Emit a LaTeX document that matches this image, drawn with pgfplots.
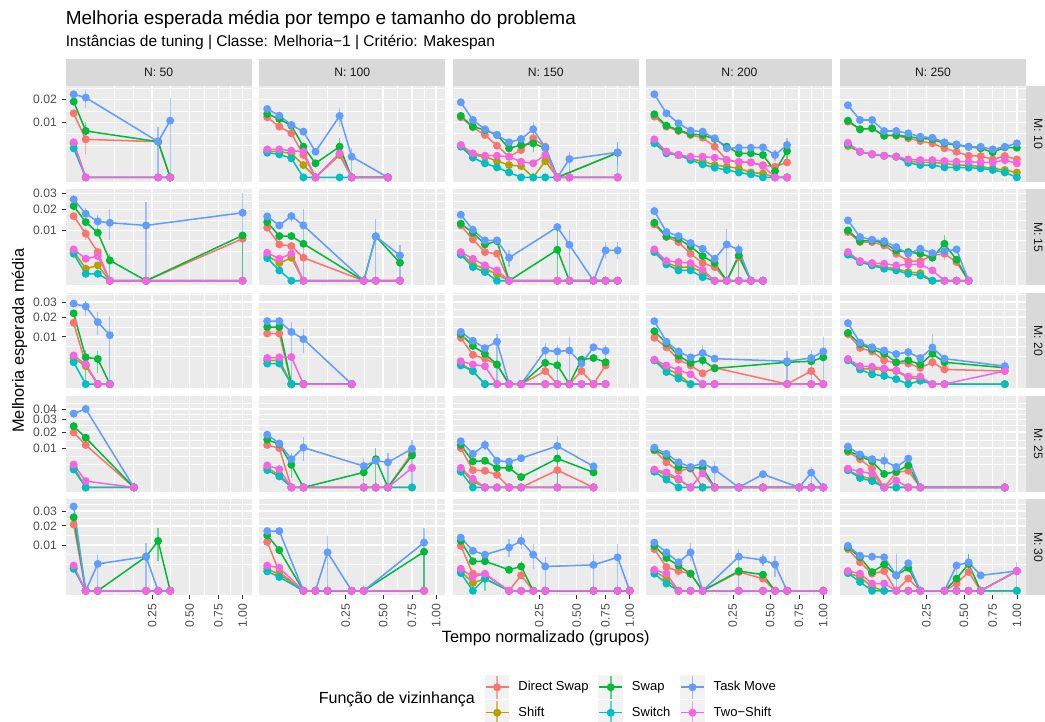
\documentclass[border=0pt]{standalone}
\usepackage{pgfplots}
\pgfplotsset{compat=1.18}
\usepgfplotslibrary{groupplots}
\usetikzlibrary{calc}
\usepackage{fontspec}
\setmainfont{Liberation Sans}
\definecolor{cDS}{HTML}{F8766D}
\definecolor{cSH}{HTML}{B79F00}
\definecolor{cSW}{HTML}{00BA38}
\definecolor{cSC}{HTML}{00BFC4}
\definecolor{cTM}{HTML}{619CFF}
\definecolor{cTS}{HTML}{F564E3}
\definecolor{panelbg}{HTML}{EBEBEB}
\definecolor{stripbg}{HTML}{D9D9D9}
\definecolor{gray10}{HTML}{1A1A1A}
\definecolor{gray20}{HTML}{333333}
\definecolor{gray30}{HTML}{4D4D4D}
\definecolor{lgbg}{HTML}{F2F2F2}
\pgfplotsset{
  ser/.style={line width=1.1pt, mark=*, mark size=2.3pt, mark options={draw=none}},
  ds/.style={ser, color=cDS},
  sh/.style={ser, color=cSH},
  sw/.style={ser, color=cSW},
  sc/.style={ser, color=cSC},
  tm/.style={ser, color=cTM},
  ts/.style={ser, color=cTS},
  eb/.style={no marks, line width=0.9pt, opacity=0.55, forget plot},
  lg/.style={legend image code/.code={
      \fill[lgbg] (0pt,-8.3pt) rectangle (16.6pt,8.3pt);
      \draw[##1, opacity=0.6] (8.3pt,-8.3pt) -- (8.3pt,8.3pt);
      \draw[##1] (0pt,0pt) -- (16.6pt,0pt);
      \fill[##1] (8.3pt,0pt) circle (2.3pt);}},
  r1/.style={ymin=-0.0079, ymax=0.1659, ytick={0.1,0.14142}, minor ytick={0.0586,0.0793,0.1207,0.1621}},
  r2/.style={ymin=-0.00865, ymax=0.1816, ytick={0.1,0.14142,0.17321}, minor ytick={0.0586,0.0793,0.1207,0.1573}},
  r3/.style={ymin=-0.0092, ymax=0.1933, ytick={0.1,0.14142,0.17321}, minor ytick={0.0586,0.0793,0.1207,0.1573,0.189}},
  r4/.style={ymin=-0.0111, ymax=0.2328, ytick={0.1,0.14142,0.17321,0.2}, minor ytick={0.0586,0.0793,0.1207,0.1573,0.1866,0.2134}},
  r5/.style={ymin=-0.0095, ymax=0.199, ytick={0.1,0.14142,0.17321}, minor ytick={0.0586,0.0793,0.1207,0.1573,0.189}},
  B/.style={xticklabels={0.25,0.50,0.75,1.00}},
}
\newcommand{\eb}[4]{\addplot[eb,color=#1] coordinates {(#2,#3) (#2,#4)};}
\begin{document}
\begin{tikzpicture}
\begin{groupplot}[
  group style={group size=5 by 5, horizontal sep=5.49pt, vertical sep=5.49pt,
    xticklabels at=edge bottom, yticklabels at=edge left},
  scale only axis, width=134.4pt, height=69.2pt,
  axis background/.style={fill=panelbg},
  axis line style={draw=none},
  xmin=0.0221, xmax=1.0497,
  xtick={0.5,0.70711,0.86603,1},
  minor xtick={0.29289,0.39645,0.60355,0.78656,0.93301},
  grid=both,
  major grid style={white, line width=1.07pt},
  minor grid style={white, line width=0.53pt},
  major tick length=0pt, minor tick length=0pt,
  tick label style={font=\fontsize{8.8}{10}\selectfont, text=gray30},
  xticklabel style={rotate=90, anchor=east},
  xticklabel shift=2.75pt, yticklabel shift=2.75pt,
  x filter/.expression={sqrt(x)},
  y filter/.expression={sqrt(y)},
]
%%%%%%%%%%%%%%%% ROW 1 (M: 10)
\nextgroupplot[r1, yticklabels={0.01,0.02}]
\eb{cTM}{0.01778}{0.01605}{0.0252}
\eb{cTM}{0.28444}{0}{0.00849}
\eb{cTM}{0.36}{0}{0.02098}
\eb{cDS}{0.01778}{0.00175}{0.00906}
\eb{cSW}{0.01778}{0.00592}{0.01024}
\addplot[ds] coordinates {(0.00444,0.01354) (0.01778,0.00477) (0.28444,0.0042) (0.36,0)};
\addplot[sh] coordinates {(0.00444,0.00382) (0.01778,0) (0.28444,0) (0.36,0)};
\addplot[sw] coordinates {(0.00444,0.01893) (0.01778,0.0071) (0.28444,0.0042) (0.36,0)};
\addplot[sc] coordinates {(0.00444,0.00278) (0.01778,0) (0.28444,0) (0.36,0)};
\addplot[tm] coordinates {(0.00444,0.02277) (0.01778,0.02098) (0.28444,0.0042) (0.36,0.0106)};
\addplot[ts] coordinates {(0.00444,0.00405) (0.01778,0) (0.28444,0) (0.36,0)};

\nextgroupplot[r1]
\eb{cTM}{0.21778}{0.00849}{0.01605}
\eb{cTM}{0.28444}{0}{0.00278}
\eb{cSW}{0.21778}{0.00165}{0.00503}
\addplot[ds] coordinates {(0.00444,0.0119) (0.01778,0.00849) (0.04,0.0064) (0.07111,0.00165) (0.11111,0) (0.21778,0.0019) (0.28444,0) (0.53778,0)};
\addplot[sh] coordinates {(0.00444,0.00229) (0.01778,0.00218) (0.04,0.0019) (0.07111,0.0005) (0.11111,0) (0.21778,0.00165) (0.28444,0) (0.53778,0)};
\addplot[sw] coordinates {(0.00444,0.01326) (0.01778,0.01125) (0.04,0.00882) (0.07111,0.00311) (0.11111,0.00065) (0.21778,0.00311) (0.28444,0) (0.53778,0)};
\addplot[sc] coordinates {(0.00444,0.00201) (0.01778,0.00175) (0.04,0.00119) (0.07111,0) (0.11111,0) (0.21778,0) (0.28444,0) (0.53778,0)};
\addplot[tm] coordinates {(0.00444,0.01543) (0.01778,0.01257) (0.04,0.00906) (0.07111,0.00689) (0.11111,0.00218) (0.21778,0.01244) (0.28444,0.00141) (0.53778,0)};
\addplot[ts] coordinates {(0.00444,0.00259) (0.01778,0.00259) (0.04,0.00235) (0.07111,0.00218) (0.11111,0) (0.21778,0.0019) (0.28444,0) (0.53778,0)};

\nextgroupplot[r1]
\eb{cTM}{0.21778}{0.00574}{0.01}
\eb{cTM}{0.44444}{0}{0.00218}
\eb{cTM}{0.87111}{0.0005}{0.0042}
\eb{cSW}{0.21778}{0.00218}{0.00503}
\eb{cSC}{0.87111}{0}{0.0042}
\addplot[ds] coordinates {(0.00444,0.0119) (0.01778,0.00826) (0.04,0.00592) (0.07111,0.00331) (0.11111,0.00141) (0.16,0.00247) (0.21778,0.00503) (0.28444,0.00311) (0.36,0) (0.87111,0.002)};
\addplot[sh] coordinates {(0.00444,0.00325) (0.01778,0.00165) (0.04,0.00141) (0.07111,0.00088) (0.11111,0.0005) (0.16,0.00042) (0.21778,0) (0.28444,0.00088) (0.36,0) (0.44444,0) (0.87111,0)};
\addplot[sw] coordinates {(0.00444,0.01244) (0.01778,0.00849) (0.04,0.0074) (0.07111,0.00592) (0.11111,0.00278) (0.16,0.00346) (0.21778,0.00382) (0.28444,0.00284) (0.36,0) (0.87111,0.002)};
\addplot[sc] coordinates {(0.00444,0.00311) (0.01778,0.00128) (0.04,0.00065) (0.07111,0.00033) (0.11111,0.00008) (0.16,0) (0.21778,0) (0.28444,0) (0.36,0) (0.44444,0) (0.87111,0)};
\addplot[tm] coordinates {(0.00444,0.0186) (0.01778,0.01087) (0.04,0.00762) (0.07111,0.00592) (0.11111,0.00405) (0.16,0.00486) (0.21778,0.00762) (0.28444,0.00291) (0.36,0) (0.44444,0.00111) (0.87111,0.00207)};
\addplot[ts] coordinates {(0.00444,0.00346) (0.01778,0.0019) (0.04,0.00155) (0.07111,0.00155) (0.11111,0.00141) (0.16,0.00081) (0.21778,0.00065) (0.28444,0.00165) (0.36,0) (0.44444,0) (0.87111,0)};

\nextgroupplot[r1]
\eb{cTM}{0.64}{0.00218}{0.00503}
\eb{cSW}{0.64}{0.00099}{0.00382}
\eb{cTM}{0.53778}{0.00088}{0.00247}
\addplot[ds] coordinates {(0.00444,0.01217) (0.01778,0.00849) (0.04,0.0071) (0.07111,0.00592) (0.11111,0.0052) (0.16,0.00311) (0.21778,0.00099) (0.28444,0.00074) (0.36,0.00074) (0.44444,0.0005) (0.53778,0.00038) (0.64,0.00074)};
\addplot[sh] coordinates {(0.00444,0.00405) (0.01778,0.00218) (0.04,0.00165) (0.07111,0.00111) (0.11111,0.00088) (0.16,0.0005) (0.21778,0.00038) (0.28444,0.00027) (0.36,0.00008) (0.44444,0.00005) (0.53778,0) (0.64,0)};
\addplot[sw] coordinates {(0.00444,0.01312) (0.01778,0.00882) (0.04,0.0074) (0.07111,0.00621) (0.11111,0.00592) (0.16,0.00486) (0.21778,0.00311) (0.28444,0.0019) (0.36,0.0019) (0.44444,0.00165) (0.53778,0.00013) (0.64,0.00229)};
\addplot[sc] coordinates {(0.00444,0.00382) (0.01778,0.0019) (0.04,0.00165) (0.07111,0.00099) (0.11111,0.00056) (0.16,0.00031) (0.21778,0.00018) (0.28444,0.00008) (0.36,0.00003) (0.44444,0) (0.53778,0) (0.64,0)};
\addplot[tm] coordinates {(0.00444,0.02277) (0.01778,0.01354) (0.04,0.00964) (0.07111,0.00719) (0.11111,0.00689) (0.16,0.00503) (0.21778,0.00278) (0.28444,0.0029) (0.36,0.0029) (0.44444,0.00297) (0.53778,0.00165) (0.64,0.00346)};
\addplot[ts] coordinates {(0.00444,0.00477) (0.01778,0.00218) (0.04,0.00165) (0.07111,0.00141) (0.11111,0.00141) (0.16,0.00128) (0.21778,0.00099) (0.28444,0.00081) (0.36,0.00074) (0.44444,0.00042) (0.53778,0) (0.64,0)};

\nextgroupplot[r1]
\addplot[ds] coordinates {(0.00444,0.01022) (0.01778,0.00762) (0.04,0.00794) (0.07111,0.00572) (0.11111,0.00572) (0.16,0.00503) (0.21778,0.00436) (0.28444,0.00382) (0.36,0.00278) (0.44444,0.00216) (0.53778,0.00154) (0.64,0.0015) (0.75111,0.00107) (0.87111,0.0015) (1,0.00107)};
\addplot[sh] coordinates {(0.00444,0.00324) (0.01778,0.00216) (0.04,0.00175) (0.07111,0.00154) (0.11111,0.00141) (0.16,0.00088) (0.21778,0.00074) (0.28444,0.00074) (0.36,0.00065) (0.44444,0.0005) (0.53778,0.0005) (0.64,0.00037) (0.75111,0.00027) (0.87111,0.00018) (1,0.00008)};
\addplot[sw] coordinates {(0.00444,0.01059) (0.01778,0.00762) (0.04,0.00794) (0.07111,0.00572) (0.11111,0.00591) (0.16,0.00545) (0.21778,0.00503) (0.28444,0.00477) (0.36,0.00382) (0.44444,0.00345) (0.53778,0.00309) (0.64,0.00278) (0.75111,0.00207) (0.87111,0.00297) (1,0.0029)};
\addplot[sc] coordinates {(0.00444,0.0036) (0.01778,0.00216) (0.04,0.00175) (0.07111,0.00154) (0.11111,0.00141) (0.16,0.0007) (0.21778,0.0005) (0.28444,0.0005) (0.36,0.00033) (0.44444,0.00033) (0.53778,0.00031) (0.64,0.00027) (0.75111,0.00018) (0.87111,0.00008) (1,0)};
\addplot[tm] coordinates {(0.00444,0.01714) (0.01778,0.01085) (0.04,0.01085) (0.07111,0.00709) (0.11111,0.00709) (0.16,0.0064) (0.21778,0.00545) (0.28444,0.00518) (0.36,0.00405) (0.44444,0.0036) (0.53778,0.00309) (0.64,0.00309) (0.75111,0.00259) (0.87111,0.00309) (1,0.00382)};
\addplot[ts] coordinates {(0.00444,0.00396) (0.01778,0.00216) (0.04,0.0018) (0.07111,0.00154) (0.11111,0.00141) (0.16,0.00107) (0.21778,0.00099) (0.28444,0.00099) (0.36,0.00088) (0.44444,0.00081) (0.53778,0.00081) (0.64,0.00074) (0.75111,0.00074) (0.87111,0.00099) (1,0.00065)};

%%%%%%%%%%%%%%%% ROW 2 (M: 15)
\nextgroupplot[r2, yticklabels={0.01,0.02,0.03}]
\eb{cTM}{0.01778}{0.01437}{0.02103}
\eb{cTM}{0.04}{0.01}{0.01685}
\eb{cTM}{0.07111}{0.00642}{0.02046}
\eb{cTM}{0.21778}{0}{0.02443}
\eb{cTM}{1}{0}{0.03034}
\eb{cSW}{0.07111}{0}{0.00288}
\eb{cSW}{1}{0}{0.00811}
\eb{cDS}{0.01778}{0.00642}{0.01067}
\addplot[ds] coordinates {(0.00444,0.01651) (0.01778,0.00872) (0.04,0.00324) (0.07111,0) (0.21778,0) (1,0.00696)};
\addplot[sh] coordinates {(0.00444,0.00347) (0.01778,0.00057) (0.04,0.00093) (0.07111,0) (0.21778,0) (1,0)};
\addplot[sw] coordinates {(0.00444,0.022) (0.01778,0.01359) (0.04,0.0091) (0.07111,0.00163) (0.21778,0) (1,0.00811)};
\addplot[sc] coordinates {(0.00444,0.00288) (0.01778,0.00019) (0.04,0.00019) (0.07111,0) (0.21778,0) (1,0)};
\addplot[tm] coordinates {(0.00444,0.02611) (0.01778,0.01772) (0.04,0.0139) (0.07111,0.01328) (0.21778,0.01208) (1,0.01825)};
\addplot[ts] coordinates {(0.00444,0.00388) (0.01778,0.00191) (0.04,0.0024) (0.07111,0) (0.21778,0) (1,0)};

\nextgroupplot[r2]
\eb{cTM}{0.04}{0.01359}{0.01772}
\eb{cTM}{0.07111}{0}{0.02046}
\eb{cTM}{0.44444}{0}{0.01517}
\eb{cTM}{0.64}{0}{0.00493}
\addplot[ds] coordinates {(0.00444,0.01109) (0.01778,0.00521) (0.04,0.00474) (0.07111,0.00209) (0.36,0) (0.44444,0) (0.64,0)};
\addplot[sh] coordinates {(0.00444,0.00253) (0.01778,0.00123) (0.04,0.00209) (0.07111,0) (0.36,0) (0.44444,0) (0.64,0)};
\addplot[sw] coordinates {(0.00444,0.01359) (0.01778,0.00787) (0.04,0.00787) (0.07111,0.0054) (0.36,0) (0.44444,0.00776) (0.64,0.00128)};
\addplot[sc] coordinates {(0.00444,0.00203) (0.01778,0.00042) (0.04,0) (0.07111,0) (0.36,0) (0.44444,0) (0.64,0)};
\addplot[tm] coordinates {(0.00444,0.01634) (0.01778,0.01208) (0.04,0.01651) (0.07111,0.01208) (0.36,0) (0.44444,0.00776) (0.64,0.00253)};
\addplot[ts] coordinates {(0.00444,0.00309) (0.01778,0.00191) (0.04,0.00288) (0.07111,0) (0.36,0) (0.44444,0) (0.64,0)};

\nextgroupplot[r2]
\eb{cTM}{0.11111}{0.00074}{0.00363}
\eb{cSW}{0.36}{0}{0.01067}
\eb{cTM}{0.44444}{0}{0.01}
\eb{cTM}{0.75111}{0.00191}{0.0059}
\eb{cTM}{0.87111}{0.00191}{0.0059}
\addplot[ds] coordinates {(0.00444,0.01208) (0.01778,0.00674) (0.04,0.00324) (0.07111,0.00288) (0.11111,0) (0.36,0) (0.44444,0) (0.64,0) (0.75111,0) (0.87111,0)};
\addplot[sh] coordinates {(0.00444,0.00302) (0.01778,0.00105) (0.04,0.00057) (0.07111,0.00016) (0.11111,0) (0.36,0) (0.44444,0) (0.64,0) (0.75111,0) (0.87111,0)};
\addplot[sw] coordinates {(0.00444,0.01282) (0.01778,0.0091) (0.04,0.00521) (0.07111,0.00621) (0.11111,0) (0.36,0.00379) (0.44444,0) (0.64,0) (0.75111,0) (0.87111,0)};
\addplot[sc] coordinates {(0.00444,0.00267) (0.01778,0.00074) (0.04,0.0003) (0.07111,0) (0.11111,0) (0.36,0) (0.44444,0) (0.64,0) (0.75111,0) (0.87111,0)};
\addplot[tm] coordinates {(0.00444,0.01719) (0.01778,0.01027) (0.04,0.00642) (0.07111,0.00642) (0.11111,0.00209) (0.36,0.01137) (0.44444,0.00511) (0.64,0) (0.75111,0.00363) (0.87111,0.00363)};
\addplot[ts] coordinates {(0.00444,0.00324) (0.01778,0.00191) (0.04,0.00093) (0.07111,0.00042) (0.11111,0) (0.36,0) (0.44444,0) (0.64,0) (0.75111,0) (0.87111,0)};

\nextgroupplot[r2]
\eb{cTM}{0.21778}{0}{0.01067}
\eb{cSW}{0.28444}{0}{0.0054}
\addplot[ds] coordinates {(0.00444,0.01252) (0.01778,0.00753) (0.04,0.0059) (0.07111,0.00288) (0.11111,0.00123) (0.16,0.00074) (0.21778,0) (0.28444,0.00221) (0.36,0) (0.44444,0)};
\addplot[sh] coordinates {(0.00444,0.00347) (0.01778,0.00123) (0.04,0.00074) (0.07111,0.00074) (0.11111,0.0003) (0.16,0) (0.21778,0) (0.28444,0) (0.36,0) (0.44444,0)};
\addplot[sw] coordinates {(0.00444,0.01328) (0.01778,0.00776) (0.04,0.00696) (0.07111,0.00465) (0.11111,0.0024) (0.16,0.00123) (0.21778,0) (0.28444,0.00253) (0.36,0) (0.44444,0)};
\addplot[sc] coordinates {(0.00444,0.00324) (0.01778,0.00105) (0.04,0.00042) (0.07111,0.00042) (0.11111,0.00005) (0.16,0) (0.21778,0) (0.28444,0) (0.36,0) (0.44444,0)};
\addplot[tm] coordinates {(0.00444,0.01916) (0.01778,0.00935) (0.04,0.00787) (0.07111,0.0056) (0.11111,0.00404) (0.16,0.00191) (0.21778,0.00521) (0.28444,0.00379) (0.36,0) (0.44444,0)};
\addplot[ts] coordinates {(0.00444,0.00388) (0.01778,0.00153) (0.04,0.00138) (0.07111,0.00123) (0.11111,0.00048) (0.16,0) (0.21778,0) (0.28444,0) (0.36,0) (0.44444,0)};

\nextgroupplot[r2]
\eb{cSW}{0.36}{0.00253}{0.00811}
\eb{cTM}{0.36}{0.00163}{0.0054}
\addplot[ds] coordinates {(0.00444,0.00935) (0.01778,0.0059) (0.04,0.0059) (0.07111,0.00493) (0.11111,0.00288) (0.16,0.00153) (0.21778,0.00153) (0.28444,0.00253) (0.36,0.00288) (0.44444,0.00138) (0.53778,0)};
\addplot[sh] coordinates {(0.00444,0.00288) (0.01778,0.00138) (0.04,0.00105) (0.07111,0.00074) (0.11111,0.00057) (0.16,0.0003) (0.21778,0.00023) (0.28444,0) (0.36,0) (0.44444,0) (0.53778,0)};
\addplot[sw] coordinates {(0.00444,0.01) (0.01778,0.00621) (0.04,0.00642) (0.07111,0.0056) (0.11111,0.00363) (0.16,0.00324) (0.21778,0.00288) (0.28444,0.00209) (0.36,0.0054) (0.44444,0.00174) (0.53778,0)};
\addplot[sc] coordinates {(0.00444,0.00267) (0.01778,0.00138) (0.04,0.00093) (0.07111,0.00057) (0.11111,0.00042) (0.16,0.00019) (0.21778,0.00011) (0.28444,0) (0.36,0) (0.44444,0) (0.53778,0)};
\addplot[tm] coordinates {(0.00444,0.01437) (0.01778,0.00753) (0.04,0.00664) (0.07111,0.00621) (0.11111,0.00447) (0.16,0.00288) (0.21778,0.00404) (0.28444,0.00302) (0.36,0.00347) (0.44444,0.00388) (0.53778,0)};
\addplot[ts] coordinates {(0.00444,0.00324) (0.01778,0.00153) (0.04,0.00123) (0.07111,0.00114) (0.11111,0.00093) (0.16,0.00105) (0.21778,0.00105) (0.28444,0.00042) (0.36,0) (0.44444,0) (0.53778,0)};

%%%%%%%%%%%%%%%% ROW 3 (M: 20)
\nextgroupplot[r3, yticklabels={0.01,0.02,0.03}]
\eb{cTM}{0.01778}{0.02096}{0.03118}
\eb{cTM}{0.04}{0.0107}{0.02302}
\eb{cTM}{0.07111}{0}{0.02097}
\eb{cSW}{0.01778}{0}{0.00524}
\eb{cSW}{0.04}{0.00058}{0.00476}
\addplot[ds] coordinates {(0.00444,0.01681) (0.01778,0.00171) (0.04,0) (0.07111,0)};
\addplot[sh] coordinates {(0.00444,0.00304) (0.01778,0.00144) (0.04,0) (0.07111,0)};
\addplot[sw] coordinates {(0.00444,0.0224) (0.01778,0.0032) (0.04,0.00282) (0.07111,0)};
\addplot[sc] coordinates {(0.00444,0.00213) (0.01778,0) (0.04,0) (0.07111,0)};
\addplot[tm] coordinates {(0.00444,0.029) (0.01778,0.02694) (0.04,0.01717) (0.07111,0.0107)};
\addplot[ts] coordinates {(0.00444,0.00368) (0.01778,0.00171) (0.04,0) (0.07111,0)};

\nextgroupplot[r3]
\eb{cTM}{0.04}{0}{0.01717}
\eb{cTM}{0.07111}{0.00429}{0.01374}
\addplot[ds] coordinates {(0.00444,0.01143) (0.01778,0.01143) (0.04,0) (0.07111,0) (0.28444,0)};
\addplot[sh] coordinates {(0.00444,0.00253) (0.01778,0.00253) (0.04,0) (0.07111,0) (0.28444,0)};
\addplot[sw] coordinates {(0.00444,0.01457) (0.01778,0.01457) (0.04,0) (0.07111,0) (0.28444,0)};
\addplot[sc] coordinates {(0.00444,0.00189) (0.01778,0.00189) (0.04,0) (0.07111,0) (0.28444,0)};
\addplot[tm] coordinates {(0.00444,0.01772) (0.01778,0.01772) (0.04,0.01218) (0.07111,0.00906) (0.28444,0)};
\addplot[ts] coordinates {(0.00444,0.00304) (0.01778,0.0032) (0.04,0.00328) (0.07111,0) (0.28444,0)};

\nextgroupplot[r3]
\eb{cTM}{0.07111}{0}{0.01143}
\eb{cTM}{0.28444}{0.00144}{0.00743}
\eb{cTM}{0.36}{0}{0.00685}
\eb{cTM}{0.44444}{0}{0.01}
\eb{cTM}{0.75111}{0.00233}{0.00685}
\addplot[ds] coordinates {(0.00444,0.00959) (0.01778,0.00385) (0.04,0.00289) (0.07111,0.00171) (0.11111,0) (0.16,0) (0.28444,0.00076) (0.36,0) (0.44444,0) (0.53778,0.00076) (0.64,0) (0.75111,0.00155)};
\addplot[sh] coordinates {(0.00444,0.00189) (0.01778,0.00076) (0.04,0) (0.07111,0) (0.11111,0) (0.16,0) (0.28444,0) (0.36,0) (0.44444,0) (0.53778,0) (0.64,0) (0.75111,0)};
\addplot[sw] coordinates {(0.00444,0.01113) (0.01778,0.00651) (0.04,0.00411) (0.07111,0.00171) (0.11111,0) (0.16,0) (0.28444,0.00201) (0.36,0.0016) (0.44444,0) (0.53778,0.00268) (0.64,0.00304) (0.75111,0.00213)};
\addplot[sc] coordinates {(0.00444,0.00155) (0.01778,0.00076) (0.04,0) (0.07111,0) (0.11111,0) (0.16,0) (0.28444,0) (0.36,0) (0.44444,0) (0.53778,0) (0.64,0) (0.75111,0)};
\addplot[tm] coordinates {(0.00444,0.01217) (0.01778,0.00841) (0.04,0.00576) (0.07111,0.00804) (0.11111,0) (0.16,0) (0.28444,0.00505) (0.36,0.00476) (0.44444,0.00505) (0.53778,0.00189) (0.64,0.00607) (0.75111,0.00495)};
\addplot[ts] coordinates {(0.00444,0.00233) (0.01778,0.00171) (0.04,0.00144) (0.07111,0) (0.11111,0) (0.16,0) (0.28444,0) (0.36,0) (0.44444,0) (0.53778,0) (0.64,0) (0.75111,0)};

\nextgroupplot[r3]
\eb{cTM}{0.11111}{0.00144}{0.00685}
\eb{cTM}{0.64}{0}{0.00476}
\eb{cTM}{0.87111}{0}{0.00524}
\eb{cTM}{1}{0}{0.01}
\addplot[ds] coordinates {(0.00444,0.00959) (0.01778,0.00607) (0.04,0.00268) (0.07111,0.00155) (0.11111,0.00052) (0.16,0.00119) (0.64,0) (0.87111,0.00076) (1,0)};
\addplot[sh] coordinates {(0.00444,0.00253) (0.01778,0.00105) (0.04,0.00043) (0.07111,0) (0.11111,0) (0.16,0) (0.64,0) (0.87111,0) (1,0)};
\addplot[sw] coordinates {(0.00444,0.01248) (0.01778,0.00743) (0.04,0.0036) (0.07111,0.00201) (0.11111,0.00253) (0.16,0.0011) (0.64,0.00213) (0.87111,0.00233) (1,0.0032)};
\addplot[sc] coordinates {(0.00444,0.00253) (0.01778,0.00065) (0.04,0.00014) (0.07111,0) (0.11111,0) (0.16,0) (0.64,0) (0.87111,0) (1,0)};
\addplot[tm] coordinates {(0.00444,0.01772) (0.01778,0.00804) (0.04,0.00476) (0.07111,0.0032) (0.11111,0.00429) (0.16,0.00289) (0.64,0.00233) (0.87111,0.00304) (1,0.00476)};
\addplot[ts] coordinates {(0.00444,0.00268) (0.01778,0.00155) (0.04,0.00088) (0.07111,0.00043) (0.11111,0) (0.16,0) (0.64,0) (0.87111,0) (1,0)};

\nextgroupplot[r3]
\eb{cTM}{0.28444}{0.00119}{0.01143}
\eb{cTM}{0.87111}{0.0006}{0.0025}
\addplot[ds] coordinates {(0.00444,0.01113) (0.01778,0.00586) (0.04,0.00476) (0.07111,0.00253) (0.11111,0.00201) (0.16,0.00189) (0.21778,0.00119) (0.28444,0.00213) (0.36,0.00096) (0.87111,0.00076)};
\addplot[sh] coordinates {(0.00444,0.00268) (0.01778,0.00105) (0.04,0.00105) (0.07111,0.00096) (0.11111,0.00076) (0.16,0.00019) (0.21778,0.00011) (0.28444,0) (0.36,0) (0.87111,0)};
\addplot[sw] coordinates {(0.00444,0.01172) (0.01778,0.00719) (0.04,0.00545) (0.07111,0.00411) (0.11111,0.00213) (0.16,0.00253) (0.21778,0.00171) (0.28444,0.00411) (0.36,0.00213) (0.87111,0.00119)};
\addplot[sc] coordinates {(0.00444,0.00253) (0.01778,0.00096) (0.04,0.00043) (0.07111,0.0003) (0.11111,0.00011) (0.16,0) (0.21778,0.00005) (0.28444,0) (0.36,0) (0.87111,0)};
\addplot[tm] coordinates {(0.00444,0.01663) (0.01778,0.00767) (0.04,0.00607) (0.07111,0.00505) (0.11111,0.00403) (0.16,0.00457) (0.21778,0.00304) (0.28444,0.00597) (0.36,0.00289) (0.87111,0.00144)};
\addplot[ts] coordinates {(0.00444,0.00282) (0.01778,0.00144) (0.04,0.00134) (0.07111,0.0011) (0.11111,0.00084) (0.16,0.00025) (0.21778,0.00025) (0.28444,0) (0.36,0) (0.87111,0.00076)};

%%%%%%%%%%%%%%%% ROW 4 (M: 25)
\nextgroupplot[r4, yticklabels={0.01,0.02,0.03,0.04}]
\addplot[ds] coordinates {(0.00444,0.0196) (0.01778,0.01166) (0.16,0)};
\addplot[sh] coordinates {(0.00444,0.0027) (0.01778,0) (0.16,0)};
\addplot[sw] coordinates {(0.00444,0.02434) (0.01778,0.01598) (0.16,0)};
\addplot[sc] coordinates {(0.00444,0.00208) (0.01778,0) (0.16,0)};
\addplot[tm] coordinates {(0.00444,0.03534) (0.01778,0.04) (0.16,0)};
\addplot[ts] coordinates {(0.00444,0.00341) (0.01778,0.00026) (0.16,0)};

\nextgroupplot[r4]
\eb{cTM}{0.04}{0.00314}{0.00774}
\eb{cTM}{0.07111}{0.00462}{0.01638}
\eb{cTM}{0.36}{0}{0.00518}
\eb{cSW}{0.44444}{0}{0.01}
\eb{cTM}{0.53778}{0}{0.00774}
\eb{cTM}{0.75111}{0}{0.0144}
\eb{cSW}{0.04}{0.00058}{0.00462}
\addplot[ds] coordinates {(0.00444,0.01166) (0.01778,0.01) (0.04,0) (0.07111,0) (0.36,0) (0.44444,0) (0.53778,0) (0.75111,0.00774)};
\addplot[sh] coordinates {(0.00444,0.00246) (0.01778,0.00102) (0.04,0) (0.07111,0) (0.36,0) (0.44444,0) (0.53778,0) (0.75111,0)};
\addplot[sw] coordinates {(0.00444,0.01479) (0.01778,0.01219) (0.04,0.00332) (0.07111,0) (0.36,0.00147) (0.44444,0.00518) (0.53778,0) (0.75111,0.00666)};
\addplot[sc] coordinates {(0.00444,0.00194) (0.01778,0.00078) (0.04,0) (0.07111,0) (0.36,0) (0.44444,0) (0.53778,0) (0.75111,0)};
\addplot[tm] coordinates {(0.00444,0.01806) (0.01778,0.01254) (0.04,0.00518) (0.07111,0.01032) (0.36,0.00296) (0.44444,0.00462) (0.53778,0.0041) (0.75111,0.00968)};
\addplot[ts] coordinates {(0.00444,0.00314) (0.01778,0.00215) (0.04,0) (0.07111,0) (0.36,0) (0.44444,0) (0.53778,0) (0.75111,0.00246)};

\nextgroupplot[r4]
\eb{cTM}{0.04}{0.00922}{0.0144}
\eb{cTM}{0.36}{0}{0.01742}
\eb{cSW}{0.36}{0}{0.00542}
\addplot[ds] coordinates {(0.00444,0.01) (0.01778,0.00194) (0.04,0.0018) (0.07111,0.00102) (0.11111,0) (0.16,0) (0.36,0.00194) (0.64,0)};
\addplot[sh] coordinates {(0.00444,0.00215) (0.01778,0.00026) (0.04,0) (0.07111,0) (0.11111,0) (0.16,0) (0.36,0) (0.64,0)};
\addplot[sw] coordinates {(0.00444,0.01166) (0.01778,0.00441) (0.04,0.00462) (0.07111,0.00246) (0.11111,0.00246) (0.16,0.0007) (0.36,0.00542) (0.64,0.00147)};
\addplot[sc] coordinates {(0.00444,0.0016) (0.01778,0) (0.04,0) (0.07111,0) (0.11111,0) (0.16,0) (0.36,0) (0.64,0)};
\addplot[tm] coordinates {(0.00444,0.01383) (0.01778,0.00733) (0.04,0.01166) (0.07111,0.00462) (0.11111,0.0043) (0.16,0.00554) (0.36,0.01115) (0.64,0.00287)};
\addplot[ts] coordinates {(0.00444,0.00246) (0.01778,0.00047) (0.04,0) (0.07111,0) (0.11111,0) (0.16,0) (0.36,0) (0.64,0)};

\nextgroupplot[r4]
\eb{cTM}{0.16}{0}{0.00462}
\eb{cTM}{0.87111}{0}{0.0027}
\addplot[ds] coordinates {(0.00444,0.00891) (0.01778,0.0041) (0.04,0.0018) (0.07111,0.0023) (0.11111,0) (0.16,0) (0.28444,0) (0.44444,0) (0.75111,0) (0.87111,0) (1,0)};
\addplot[sh] coordinates {(0.00444,0.00194) (0.01778,0.00102) (0.04,0.0004) (0.07111,0) (0.11111,0) (0.16,0) (0.28444,0) (0.44444,0) (0.75111,0) (0.87111,0) (1,0)};
\addplot[sw] coordinates {(0.00444,0.00922) (0.01778,0.0064) (0.04,0.0027) (0.07111,0.00246) (0.11111,0.00246) (0.16,0) (0.28444,0) (0.44444,0) (0.75111,0) (0.87111,0) (1,0)};
\addplot[sc] coordinates {(0.00444,0.0016) (0.01778,0.0004) (0.04,0) (0.07111,0) (0.11111,0) (0.16,0) (0.28444,0) (0.44444,0) (0.75111,0) (0.87111,0) (1,0)};
\addplot[tm] coordinates {(0.00444,0.01032) (0.01778,0.00733) (0.04,0.0041) (0.07111,0.0027) (0.11111,0.00379) (0.16,0.00208) (0.28444,0) (0.44444,0.00113) (0.75111,0) (0.87111,0.00141) (1,0)};
\addplot[ts] coordinates {(0.00444,0.00208) (0.01778,0.00147) (0.04,0.0005) (0.07111,0) (0.11111,0.0013) (0.16,0) (0.28444,0) (0.44444,0) (0.75111,0) (0.87111,0) (1,0)};

\nextgroupplot[r4]
\eb{cTM}{0.07111}{0.0023}{0.00774}
\addplot[ds] coordinates {(0.00444,0.00817) (0.01778,0.00518) (0.04,0.0023) (0.07111,0) (0.11111,0.00147) (0.16,0.0018) (0.21778,0) (0.87111,0)};
\addplot[sh] coordinates {(0.00444,0.00194) (0.01778,0.00078) (0.04,0.0005) (0.07111,0) (0.11111,0) (0.16,0) (0.21778,0) (0.87111,0)};
\addplot[sw] coordinates {(0.00444,0.00876) (0.01778,0.0064) (0.04,0.00441) (0.07111,0.00118) (0.11111,0.0016) (0.16,0.00314) (0.21778,0) (0.87111,0)};
\addplot[sc] coordinates {(0.00444,0.00194) (0.01778,0.00058) (0.04,0.00026) (0.07111,0) (0.11111,0) (0.16,0) (0.21778,0) (0.87111,0)};
\addplot[tm] coordinates {(0.00444,0.01082) (0.01778,0.00706) (0.04,0.00518) (0.07111,0.00462) (0.11111,0.0027) (0.16,0.00542) (0.21778,0) (0.87111,0)};
\addplot[ts] coordinates {(0.00444,0.0023) (0.01778,0.0016) (0.04,0.0013) (0.07111,0) (0.11111,0.00031) (0.16,0) (0.21778,0) (0.87111,0)};

%%%%%%%%%%%%%%%% ROW 5 (M: 30)
\nextgroupplot[r5, B, yticklabels={0.01,0.02,0.03}]
\eb{cTM}{0.04}{0}{0.0064}
\eb{cTM}{0.21778}{0}{0.01103}
\eb{cSW}{0.28444}{0.00432}{0.0188}
\addplot[ds] coordinates {(0.00444,0.02082) (0.01778,0) (0.04,0) (0.21778,0) (0.28444,0) (0.36,0)};
\addplot[sh] coordinates {(0.00444,0.0025) (0.01778,0) (0.04,0) (0.21778,0) (0.28444,0) (0.36,0)};
\addplot[sw] coordinates {(0.00444,0.0256) (0.01778,0) (0.04,0) (0.21778,0.00552) (0.28444,0.01179) (0.36,0)};
\addplot[sc] coordinates {(0.00444,0.00229) (0.01778,0) (0.04,0) (0.21778,0) (0.28444,0) (0.36,0)};
\addplot[tm] coordinates {(0.00444,0.0337) (0.01778,0) (0.04,0.00343) (0.21778,0.00552) (0.28444,0) (0.36,0)};
\addplot[ts] coordinates {(0.00444,0.00302) (0.01778,0) (0.04,0) (0.21778,0) (0.28444,0) (0.36,0)};

\nextgroupplot[r5, B]
\eb{cTM}{0.16}{0}{0.01423}
\eb{cTM}{0.87111}{0}{0.0188}
\eb{cSW}{0.87111}{0}{0.00723}
\addplot[ds] coordinates {(0.00444,0.01133) (0.01778,0.00166) (0.07111,0) (0.11111,0) (0.16,0) (0.28444,0) (0.36,0) (0.87111,0)};
\addplot[sh] coordinates {(0.00444,0.00229) (0.01778,0.00128) (0.07111,0) (0.11111,0) (0.16,0) (0.28444,0) (0.36,0) (0.87111,0)};
\addplot[sw] coordinates {(0.00444,0.01457) (0.01778,0.00785) (0.07111,0) (0.11111,0) (0.16,0) (0.28444,0) (0.36,0) (0.87111,0.00723)};
\addplot[sc] coordinates {(0.00444,0.00178) (0.01778,0.0009) (0.07111,0) (0.11111,0) (0.16,0) (0.28444,0) (0.36,0) (0.87111,0)};
\addplot[tm] coordinates {(0.00444,0.0169) (0.01778,0.0169) (0.07111,0) (0.11111,0) (0.16,0.00698) (0.28444,0) (0.36,0) (0.87111,0.01103)};
\addplot[ts] coordinates {(0.00444,0.00302) (0.01778,0.0025) (0.07111,0) (0.11111,0) (0.16,0) (0.28444,0) (0.36,0) (0.87111,0)};

\nextgroupplot[r5, B,
  legend columns=3, legend cell align=left,
  legend style={at={(0.1731,-0.834)}, anchor=north west, draw=none, fill=none,
    inner sep=0pt, outer sep=0pt, row sep=0.72pt,
    font=\fontsize{9.4}{11}\selectfont, nodes={inner sep=0pt},
    /tikz/every odd column/.append style={column sep=6.5pt},
    /tikz/every even column/.append style={column sep=7.2pt}}]
\addlegendimage{ds,lg}\addlegendentry{Direct Swap}
\addlegendimage{sw,lg}\addlegendentry{Swap}
\addlegendimage{tm,lg}\addlegendentry{Task Move}
\addlegendimage{sh,lg}\addlegendentry{Shift}
\addlegendimage{sc,lg}\addlegendentry{Switch}
\addlegendimage{ts,lg}\addlegendentry{Two−Shift}
\eb{cTM}{0.11111}{0.00531}{0.01257}
\eb{cTM}{0.16}{0.00823}{0.01545}
\eb{cTM}{0.21778}{0.00229}{0.01029}
\eb{cTM}{0.28444}{0}{0.00531}
\eb{cTM}{0.64}{0}{0.0064}
\eb{cTM}{0.87111}{0}{0.01029}
\eb{cSW}{0.16}{0.00138}{0.00432}
\eb{cSC}{0.04}{0}{0.0014}
\addplot[ds] coordinates {(0.00444,0.00958) (0.01778,0.00138) (0.04,0.00128) (0.11111,0) (0.16,0.00113) (0.21778,0) (0.28444,0) (0.64,0) (0.87111,0) (1,0)};
\addplot[sh] coordinates {(0.00444,0.00184) (0.01778,0.00029) (0.04,0.0007) (0.11111,0) (0.16,0) (0.21778,0) (0.28444,0) (0.64,0) (0.87111,0) (1,0)};
\addplot[sw] coordinates {(0.00444,0.01179) (0.01778,0.00413) (0.04,0.00413) (0.11111,0.00209) (0.16,0.0028) (0.21778,0) (0.28444,0) (0.64,0) (0.87111,0) (1,0)};
\addplot[sc] coordinates {(0.00444,0.00149) (0.01778,0) (0.04,0.0007) (0.11111,0) (0.16,0) (0.21778,0) (0.28444,0) (0.64,0) (0.87111,0) (1,0)};
\addplot[tm] coordinates {(0.00444,0.01339) (0.01778,0.00759) (0.04,0.00617) (0.11111,0.00889) (0.16,0.01179) (0.21778,0.00617) (0.28444,0.0028) (0.64,0.00318) (0.87111,0.00531) (1,0)};
\addplot[ts] coordinates {(0.00444,0.00229) (0.01778,0.0009) (0.04,0.00138) (0.11111,0) (0.16,0) (0.21778,0) (0.28444,0) (0.64,0) (0.87111,0) (1,0)};

\nextgroupplot[r5, B]
\eb{cTM}{0.07111}{0.00432}{0.01103}
\eb{cTM}{0.28444}{0}{0.00823}
\eb{cTM}{0.44444}{0.00302}{0.0064}
\eb{cTM}{0.53778}{0.0009}{0.00584}
\addplot[ds] coordinates {(0.00444,0.00823) (0.01778,0.00265) (0.04,0.00184) (0.07111,0.00138) (0.11111,0) (0.28444,0.00166) (0.44444,0.0007) (0.53778,0) (0.64,0) (1,0)};
\addplot[sh] coordinates {(0.00444,0.00184) (0.01778,0.0007) (0.04,0) (0.07111,0) (0.11111,0) (0.28444,0) (0.44444,0) (0.53778,0) (0.64,0) (1,0)};
\addplot[sw] coordinates {(0.00444,0.00958) (0.01778,0.0051) (0.04,0.00302) (0.07111,0.00138) (0.11111,0) (0.28444,0.00184) (0.44444,0.00123) (0.53778,0) (0.64,0) (1,0)};
\addplot[sc] coordinates {(0.00444,0.00138) (0.01778,0.00025) (0.04,0) (0.07111,0) (0.11111,0) (0.28444,0) (0.44444,0) (0.53778,0) (0.64,0) (1,0)};
\addplot[tm] coordinates {(0.00444,0.01103) (0.01778,0.00698) (0.04,0.00386) (0.07111,0.00698) (0.11111,0) (0.28444,0.00552) (0.44444,0.00451) (0.53778,0.00327) (0.64,0) (1,0)};
\addplot[ts] coordinates {(0.00444,0.00209) (0.01778,0.00138) (0.04,0) (0.07111,0) (0.11111,0) (0.28444,0) (0.44444,0) (0.53778,0) (0.64,0) (1,0)};

\nextgroupplot[r5, B]
\eb{cTM}{0.11111}{0}{0.0064}
\eb{cTM}{0.44444}{0.00138}{0.00432}
\eb{cTM}{0.53778}{0.00196}{0.0064}
\eb{cTM}{1}{0}{0.00386}
\eb{cSW}{0.53778}{0.00196}{0.0064}
\addplot[ds] coordinates {(0.00444,0.00823) (0.01778,0.00386) (0.04,0.00138) (0.07111,0.00184) (0.11111,0) (0.16,0.0007) (0.21778,0) (0.36,0) (0.44444,0.00025) (0.53778,0.00166) (0.64,0) (1,0.00184)};
\addplot[sh] coordinates {(0.00444,0.00149) (0.01778,0.0009) (0.04,0.00007) (0.07111,0) (0.11111,0) (0.16,0) (0.21778,0) (0.36,0) (0.44444,0) (0.53778,0) (0.64,0) (1,0)};
\addplot[sw] coordinates {(0.00444,0.00889) (0.01778,0.00531) (0.04,0.00166) (0.07111,0.00327) (0.11111,0.00113) (0.16,0.0025) (0.21778,0) (0.36,0) (0.44444,0.0007) (0.53778,0.00343) (0.64,0) (1,0.00184)};
\addplot[sc] coordinates {(0.00444,0.00149) (0.01778,0.00037) (0.04,0) (0.07111,0) (0.11111,0) (0.16,0) (0.21778,0) (0.36,0) (0.44444,0) (0.53778,0) (0.64,0) (1,0)};
\addplot[tm] coordinates {(0.00444,0.00958) (0.01778,0.00584) (0.04,0.00552) (0.07111,0.00531) (0.11111,0.00113) (0.16,0.0036) (0.21778,0) (0.36,0) (0.44444,0.00302) (0.53778,0.00386) (0.64,0.00113) (1,0.00184)};
\addplot[ts] coordinates {(0.00444,0.00184) (0.01778,0.00138) (0.04,0.00025) (0.07111,0.00025) (0.11111,0) (0.16,0) (0.21778,0) (0.36,0) (0.44444,0) (0.53778,0) (0.64,0) (1,0.00184)};
\end{groupplot}

\begin{scope}[x=0.7227pt,y=-0.7227pt,shift={($(group c1r1.north west)+(-47.41pt,62.15pt)$)}]
  \node[anchor=base west, inner sep=0pt, font=\fontsize{13.7}{16}\selectfont] at (65.6,24.5) {Melhoria esperada média por tempo e tamanho do problema};
  \node[anchor=base west, inner sep=0pt, font=\fontsize{11.2}{13}\selectfont] at (65.6,47) {Instâncias de tuning | Classe: Melhoria−1 | Critério: Makespan};
  \foreach \L/\t in {65.6/50,259.2/100,452.8/150,646.4/200,840/250}{
    \fill[stripbg] (\L,59.3) rectangle ({\L+186},86);
    \node[font=\fontsize{8.8}{10}\selectfont, text=gray10] at ({\L+93},72.65) {N: \t};
  }
  \foreach \T/\t in {86/10,189.35/15,292.7/20,396.05/25,499.4/30}{
    \fill[stripbg] (1026,\T) rectangle (1050,{\T+95.75});
    \node[rotate=-90, font=\fontsize{8.8}{10}\selectfont, text=gray10] at (1038.3,{\T+47.9}) {M: \t};
  }
  \foreach \L in {65.6,259.2,452.8,646.4,840}{
    \foreach \d in {86.5,124.0,152.7,177.0}{
      \draw[gray20, line width=0.53pt] ({\L+\d},595.15) -- ({\L+\d},598.95);
    }
  }
  \foreach \yy in {122.3,99.5,230.4,209.6,193.6,336.8,317.2,302.2,448.2,431.9,419.4,408.9,544.9,525.8,511.2}{
    \draw[gray20, line width=0.53pt] (61.8,\yy) -- (65.6,\yy);
  }
  \node[rotate=90, font=\fontsize{11.8}{14}\selectfont] at (19.5,340.5) {Melhoria esperada média};
  \node[font=\fontsize{11.8}{14}\selectfont] at (545.8,638) {Tempo normalizado (grupos)};
  \node[anchor=west, inner sep=0pt, font=\fontsize{11.6}{14}\selectfont] at (318.5,699.5) {Função de vizinhança};
  \pgfresetboundingbox
  \path[use as bounding box] (0,0) rectangle (1045,722);
\end{scope}
\end{tikzpicture}
\end{document}
